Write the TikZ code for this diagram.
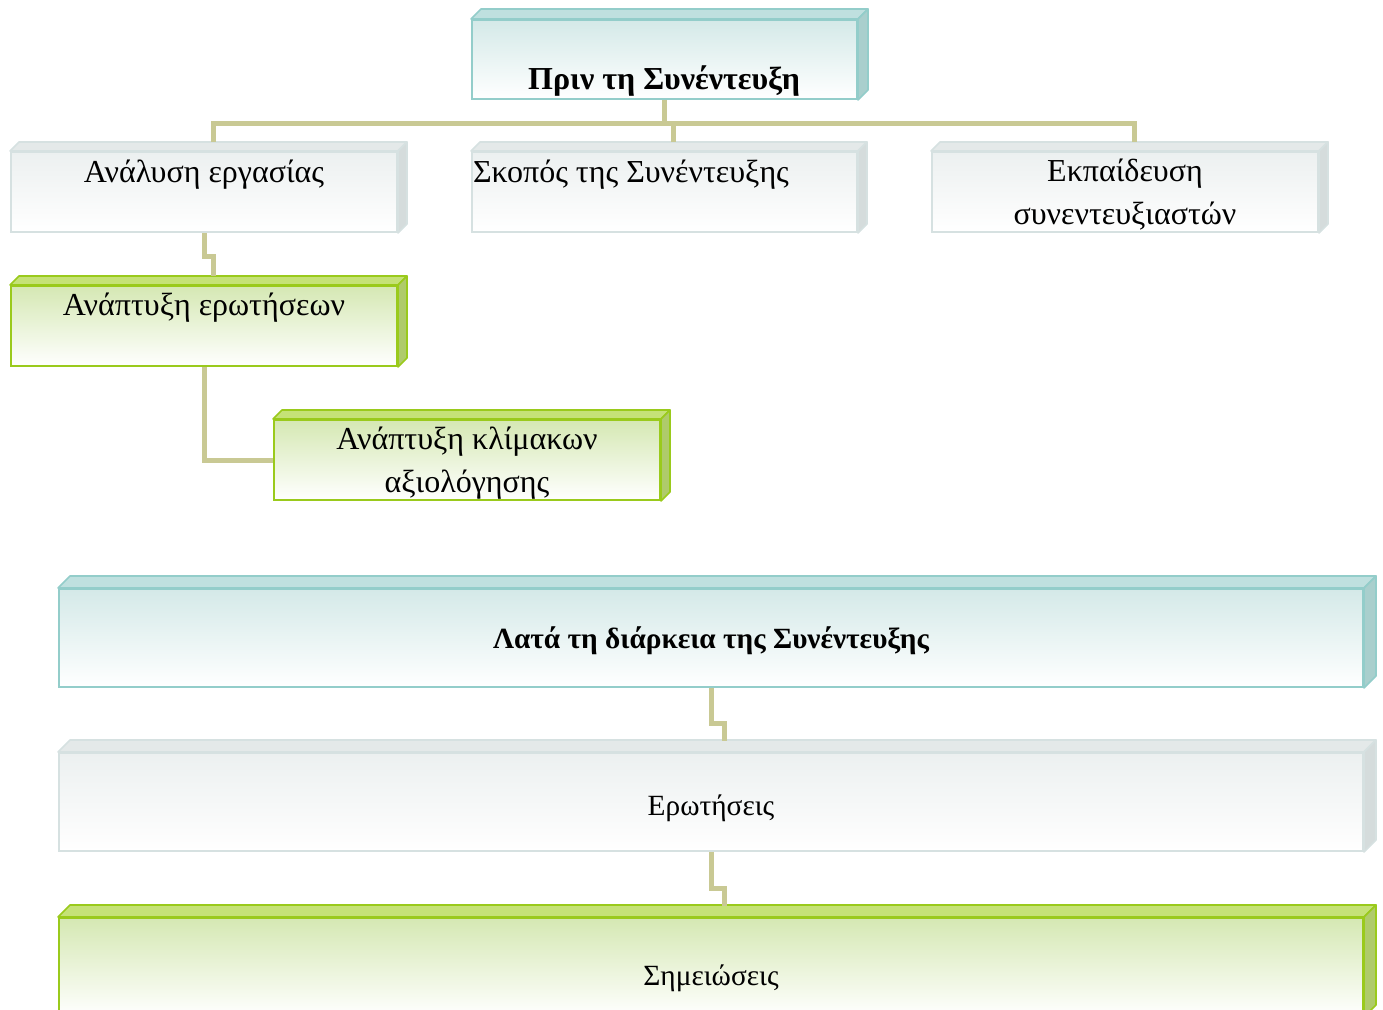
\documentclass[tikz,border=0pt]{standalone}
\usepackage{fontspec}
\setmainfont{Liberation Serif}
\definecolor{tealborder}{HTML}{93CDCA}
\definecolor{tealfill}{HTML}{D4E9E8}
\definecolor{tealtop}{HTML}{BFE0DF}
\definecolor{tealside}{HTML}{A9CFCD}
\definecolor{grayborder}{HTML}{D6E1E1}
\definecolor{grayfill}{HTML}{ECF0F0}
\definecolor{graytop}{HTML}{E4E9E9}
\definecolor{grayside}{HTML}{D5DCDC}
\definecolor{grnborder}{HTML}{9ACA1C}
\definecolor{grnfill}{HTML}{D5E8B3}
\definecolor{grntop}{HTML}{C5E277}
\definecolor{grnside}{HTML}{AFCB6B}
\definecolor{connc}{HTML}{C9C994}
\tikzset{
  face/.style={draw=#1border, line width=1.5pt, inner sep=0pt, rectangle,
    top color=#1fill, middle color=#1fill!75!white, bottom color=white},
  topface/.style={draw=#1border, fill=#1top, line width=1.2pt, line join=round},
  sideface/.style={draw=#1border, fill=#1side, line width=1.2pt, line join=round},
  conn/.style={draw=connc, line width=3.75pt, line join=miter},
  lbl/.style={anchor=base, inner sep=0pt, align=center, font=\fontsize{24}{32}\selectfont},
  blbl/.style={anchor=base, inner sep=0pt, font=\fontsize{24}{28}\selectfont\bfseries},
  mlbl/.style={anchor=base, inner sep=0pt, font=\fontsize{22}{26}\selectfont},
  mblbl/.style={anchor=base, inner sep=0pt, font=\fontsize{22}{26}\selectfont\bfseries},
}
\newcommand\bevbox[7]{%
  \node[face=#6, minimum width={(#4-#2)*0.75pt}, minimum height={(#5-#3)*0.75pt}] (#1) at ({(#2+#4)/2},{(#3+#5)/2}) {};
  \filldraw[topface=#6] (#1.north west) -- ++(#7,-#7) -- ([shift={(#7,-#7)}]#1.north east) -- (#1.north east) -- cycle;
  \filldraw[sideface=#6] (#1.north east) -- ++(#7,-#7) -- ([shift={(#7,-#7)}]#1.south east) -- (#1.south east) -- cycle;
}
\begin{document}
\begin{tikzpicture}[x=0.75pt,y=-0.75pt]
\useasboundingbox (0,0) rectangle (1383,1009);
\clip (0,0) rectangle (1383,1009);
% boxes
\bevbox{t0}{472}{20}{857}{99}{teal}{10}
\bevbox{b1}{11}{152}{397}{232}{gray}{9}
\bevbox{b2}{472}{152}{857}{232}{gray}{9}
\bevbox{b3}{932}{152}{1318}{232}{gray}{9}
\bevbox{g1}{11}{286}{397}{366}{grn}{9}
\bevbox{g2}{274}{420}{660}{500}{grn}{9}
\bevbox{m1}{59}{589}{1363}{687}{teal}{12}
\bevbox{m2}{59}{753}{1363}{851}{gray}{12}
\bevbox{m3}{59}{918}{1363}{1016}{grn}{12}
% connector end points
\coordinate (hub) at ([shift={(0,24)}]t0.south);
\coordinate (b1t) at ([shift={(9,-9)}]b1.north);
\coordinate (b2t) at ([shift={(9,-9)}]b2.north);
\coordinate (b3t) at ([shift={(9,-9)}]b3.north);
\coordinate (g1t) at ([shift={(9,-9)}]g1.north);
\coordinate (m2t) at ([shift={(13,-11)}]m2.north);
\coordinate (m3t) at ([shift={(13,-11)}]m3.north);
% connectors
\draw[conn] (t0.south) -- (hub);
\draw[conn] (b1t) |- (hub) -| (b3t);
\draw[conn] (hub) -| (b2t);
\draw[conn] (b1.south) -- ++(0,23) -| (g1t);
\draw[conn] (g1.south) |- (g2.west);
\draw[conn] (m1.south) -- ++(0,35) -| (m2t);
\draw[conn] (m2.south) -- ++(0,36) -| (m3t);
% labels
\node[blbl] (t0l) at (664,90) {Πριν τη Συνέντευξη};
\node[lbl] (b1l) at (204,183) {Ανάλυση εργασίας};
\node[lbl] (b2l) at (631,183) {Σκοπός της Συνέντευξης};
\node[lbl] (b3l) at (1125,224) {Εκπαίδευση\\συνεντευξιαστών};
\node[lbl] (g1l) at (204,315) {Ανάπτυξη ερωτήσεων};
\node[lbl] (g2l) at (467,492) {Ανάπτυξη κλίμακων\\αξιολόγησης};
\node[mblbl] (m1l) at (711,648) {Λατά τη διάρκεια της Συνέντευξης};
\node[mlbl] (m2l) at (711,815) {Ερωτήσεις};
\node[mlbl] (m3l) at (711,985) {Σημειώσεις};
\end{tikzpicture}
\end{document}
